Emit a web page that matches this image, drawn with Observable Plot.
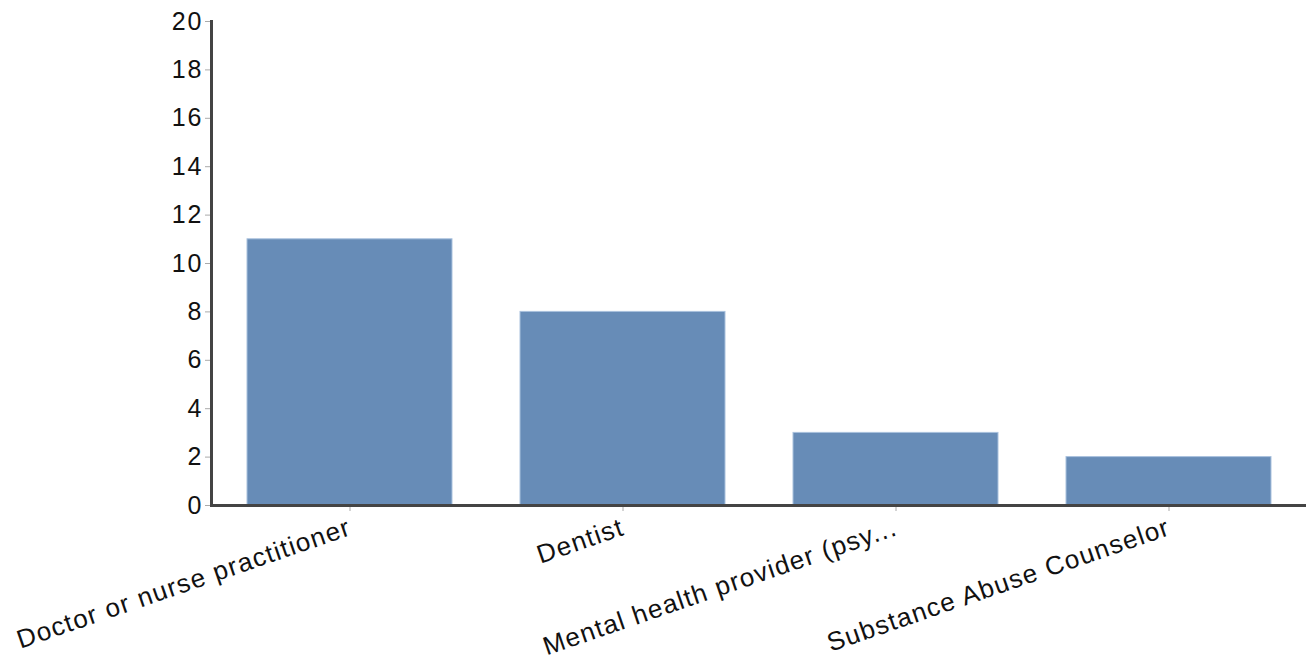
<!DOCTYPE html>
<html><head><meta charset="utf-8">
<script src="https://cdn.jsdelivr.net/npm/d3@7"></script>
<script src="https://cdn.jsdelivr.net/npm/@observablehq/plot@0.6"></script>
<style>
body{margin:0;background:#fff}
g[aria-label="y-axis tick label"] text{letter-spacing:2px}
g[aria-label="x-axis tick label"] text{letter-spacing:1.3px}
</style>
</head><body><div id="chart"></div>
<script>
const categories = ["Doctor or nurse practitioner", "Dentist", "Mental health provider (psy...", "Substance Abuse Counselor"];
const values = [11, 8, 3, 2];
const yTicks = [0, 2, 4, 6, 8, 10, 12, 14, 16, 18, 20];

const data = categories.map((c, i) => ({category: c, value: values[i]}));

const chart = Plot.plot({
  width: 1306,
  height: 661,
  marginLeft: 211,
  marginRight: 0,
  marginTop: 21,
  marginBottom: 156,
  style: {fontFamily: "'Liberation Sans', Arial, sans-serif", background: "#fff", color: "#111"},
  x: {domain: categories, paddingInner: 0.25, paddingOuter: 0.125, label: null},
  y: {domain: [0, 20], label: null},
  marks: [
    Plot.barY(data, {x: "category", y: "value", fill: "#678cb7", stroke: "#a9c1dd", strokeWidth: 1}),
    Plot.axisY({ticks: yTicks, tickSize: 6, tickPadding: 2, fontSize: 25, stroke: "#aaa", fill: "#111", label: null}),
    Plot.axisX({tickSize: 6, tickPadding: 15, tickRotate: -19, fontSize: 26, stroke: "#aaa", fill: "#111", label: null}),
    Plot.ruleY([0], {stroke: "#444", strokeWidth: 3}),
    Plot.frame({anchor: "left", stroke: "#444", strokeWidth: 3})
  ]
});
document.getElementById("chart").appendChild(chart);
</script>
</body></html>
